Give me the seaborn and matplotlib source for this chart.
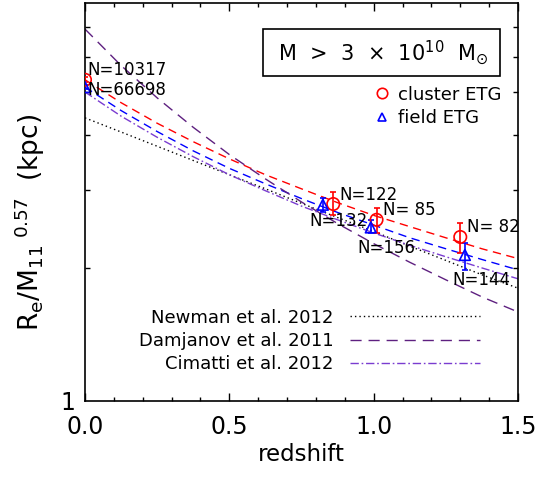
import numpy as np
import pandas as pd
import matplotlib
matplotlib.use("Agg")
import matplotlib.pyplot as plt
from matplotlib.lines import Line2D
from matplotlib.ticker import FixedLocator, NullFormatter, FixedFormatter
import seaborn as sns

# ---------------- data ----------------
z_fit = [0.0, 0.125, 0.25, 0.375, 0.5, 0.625, 0.75, 0.875, 1.0, 1.125, 1.25, 1.375, 1.5]
cluster_fit = [5.33, 4.73, 4.25, 3.86, 3.53, 3.25, 3.02, 2.81, 2.63, 2.48, 2.34, 2.21, 2.10]
field_fit = [5.13, 4.54, 4.07, 3.68, 3.36, 3.10, 2.87, 2.67, 2.50, 2.34, 2.21, 2.09, 1.98]
newman = [4.37, 4.06, 3.77, 3.50, 3.25, 3.02, 2.80, 2.60, 2.42, 2.24, 2.08, 1.93, 1.80]
damjanov = [6.94, 5.74, 4.85, 4.16, 3.61, 3.18, 2.82, 2.52, 2.27, 2.06, 1.88, 1.72, 1.59]
cimatti = [5.00, 4.41, 3.95, 3.57, 3.25, 2.99, 2.76, 2.57, 2.40, 2.25, 2.12, 2.00, 1.89]

cluster_z = [0.0, 0.86, 1.01, 1.30]
cluster_r = [5.33, 2.79, 2.57, 2.35]
cluster_lo = [5.26, 2.63, 2.40, 2.16]
cluster_hi = [5.40, 2.97, 2.73, 2.53]
cluster_n = ["N=10317", "N=122", "N= 85", "N= 82"]

field_z = [0.0, 0.824, 0.99, 1.316]
field_r = [5.13, 2.78, 2.47, 2.14]
field_lo = [5.08, 2.68, 2.40, 1.98]
field_hi = [5.18, 2.88, 2.57, 2.28]
field_n = ["N=66698", "N=132", "N=156", "N=144"]

# label anchor positions (z, value) for the N= annotations
cluster_lab_z = [0.007, 0.880, 1.032, 1.323]
cluster_lab_r = [5.61, 2.92, 2.71, 2.48]
field_lab_z = [0.007, 0.776, 0.942, 1.271]
field_lab_r = [5.05, 2.55, 2.22, 1.88]

model_names = ["Newman et al. 2012", "Damjanov et al. 2011", "Cimatti et al. 2012"]

# ---------------- style ----------------
sns.set_style("ticks")
plt.rcParams["font.family"] = ["DejaVu Sans"]
plt.rcParams["mathtext.default"] = "regular"
plt.rcParams["text.color"] = "black"
plt.rcParams["axes.labelcolor"] = "black"
plt.rcParams["xtick.color"] = "black"
plt.rcParams["ytick.color"] = "black"

fig = plt.figure(figsize=(5.38, 4.79), dpi=100)
ax = fig.add_axes([85 / 538, 1 - 401 / 479, 433 / 538, 398 / 479])

RED = "#ff0000"
BLUE = "#0000ff"
DAMJ = "#5e2080"
CIMA = "#7a3cd0"

fits = pd.DataFrame({
    "z": z_fit * 5,
    "r": cluster_fit + field_fit + newman + damjanov + cimatti,
    "model": (["cluster fit"] * len(z_fit) + ["field fit"] * len(z_fit)
              + [model_names[0]] * len(z_fit) + [model_names[1]] * len(z_fit)
              + [model_names[2]] * len(z_fit)),
})
palette = {"cluster fit": RED, "field fit": BLUE, model_names[0]: "black",
           model_names[1]: DAMJ, model_names[2]: CIMA}
dashes = {"cluster fit": (6, 4), "field fit": (6, 4), model_names[0]: (1, 2.2),
          model_names[1]: (8, 5), model_names[2]: (6, 2, 1.2, 2)}
sns.lineplot(data=fits, x="z", y="r", hue="model", style="model", palette=palette,
             dashes=dashes, linewidth=1.0, legend=False, ax=ax, sort=False)

# points with error bars
cz = np.array(cluster_z); cr = np.array(cluster_r)
fz = np.array(field_z); fr = np.array(field_r)
ax.errorbar(cz, cr, yerr=[cr - np.array(cluster_lo), np.array(cluster_hi) - cr],
            fmt="none", ecolor=RED, elinewidth=1.2, capsize=2.5, capthick=1.2, zorder=4)
ax.errorbar(fz, fr, yerr=[fr - np.array(field_lo), np.array(field_hi) - fr],
            fmt="none", ecolor=BLUE, elinewidth=1.2, capsize=2.5, capthick=1.2, zorder=4)
pts = pd.DataFrame({"z": cluster_z + field_z, "r": cluster_r + field_r,
                    "sample": ["cluster ETG"] * 4 + ["field ETG"] * 4})
sns.scatterplot(data=pts[pts["sample"] == "cluster ETG"], x="z", y="r", marker="o", s=80,
                facecolor="none", edgecolor=RED, linewidth=1.2, ax=ax, legend=False, zorder=5)
sns.scatterplot(data=pts[pts["sample"] == "field ETG"], x="z", y="r", marker="^", s=60,
                facecolor="none", edgecolor=BLUE, linewidth=1.2, ax=ax, legend=False, zorder=5)

for lab, x, y in zip(cluster_n + field_n, cluster_lab_z + field_lab_z, cluster_lab_r + field_lab_r):
    ax.text(x, y, lab, fontsize=12, ha="left", va="center", color="black", zorder=6)

# axes
ax.set_yscale("log")
ax.set_xlim(0, 1.5)
ax.set_ylim(1, 7.95)
ax.yaxis.set_major_locator(FixedLocator([1]))
ax.yaxis.set_major_formatter(FixedFormatter(["1"]))
ax.yaxis.set_minor_locator(FixedLocator([2, 3, 4, 5, 6, 7]))
ax.yaxis.set_minor_formatter(NullFormatter())
ax.set_xticks([0.0, 0.5, 1.0, 1.5])
ax.set_xticklabels(["0.0", "0.5", "1.0", "1.5"])
ax.xaxis.set_minor_locator(FixedLocator(np.arange(0.1, 1.5, 0.1)))
ax.tick_params(axis="both", which="both", direction="in", top=True, right=True,
               width=1.0, labelsize=17, color="black", labelcolor="black")
ax.tick_params(axis="x", which="major", length=6, pad=10)
ax.tick_params(axis="x", which="minor", length=3)
ax.tick_params(axis="y", which="major", length=0, pad=7)
ax.tick_params(axis="y", which="minor", length=3.5)
for s in ax.spines.values():
    s.set_linewidth(1.2)
    s.set_color("black")
ax.set_xlabel("redshift", fontsize=16.5, labelpad=3)
ax.set_ylabel("")
fig.text(30 / 538, 1 - 222 / 479, r"R$_{e}$/M$_{11}$$^{\ 0.57}$  (kpc)", rotation=90,
         fontsize=19, ha="center", va="center")

# mass box
ax.text(0.685, 0.876, r" M  >  3  $\times$  10$^{10}$  M$_{\odot}$ ", transform=ax.transAxes,
        fontsize=15, ha="center", va="center",
        bbox=dict(boxstyle="square,pad=0.45", facecolor="white", edgecolor="black", linewidth=1.2))

# marker legend
mk_handles = [Line2D([], [], marker="o", ls="none", mfc="none", mec=RED, ms=7.5, mew=1.2),
              Line2D([], [], marker="^", ls="none", mfc="none", mec=BLUE, ms=6, mew=1.2)]
leg1 = ax.legend(mk_handles, ["cluster ETG", "field ETG"], loc="upper left",
                 bbox_to_anchor=(0.645, 0.815), frameon=False, fontsize=13,
                 handlelength=1.0, handletextpad=0.35, labelspacing=0.3, borderpad=0)
ax.add_artist(leg1)

# model line legend
ln_handles = [Line2D([], [], color="black", lw=1.0, dashes=dashes[model_names[0]]),
              Line2D([], [], color=DAMJ, lw=1.0, dashes=dashes[model_names[1]]),
              Line2D([], [], color=CIMA, lw=1.0, dashes=dashes[model_names[2]])]
ax.legend(ln_handles, model_names, loc="upper right", bbox_to_anchor=(0.933, 0.255),
          frameon=False, fontsize=13, markerfirst=False, handlelength=7.2,
          handletextpad=0.9, labelspacing=0.3, borderpad=0)

fig.savefig("out.png", dpi=100)
